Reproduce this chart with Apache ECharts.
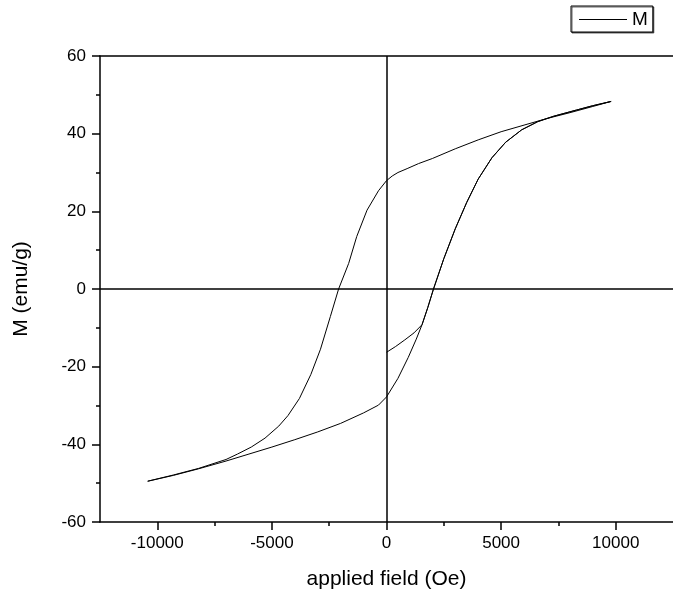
<!DOCTYPE html>
<html>
<head>
<meta charset="utf-8">
<script src="https://cdn.jsdelivr.net/npm/echarts@6/dist/echarts.min.js"></script>
<style>
  html, body { margin: 0; padding: 0; background: #fff; }
  #chart { width: 673px; height: 598px; }
</style>
</head>
<body>
<div id="chart"></div>
<script>
// hysteresis loop, values
// initial curve (starts from remanent state at H = 0)
var initField = [0, 400, 800, 1200, 1550];
var initM = [-16.3, -14.8, -13.1, -11.3, -9.2];

// descending branch, +H max -> -H max
var descField = [9800, 9000, 8000, 7000, 6000, 5000, 4000, 3000, 2000, 1400, 900, 500, 250, 0,
  -350, -850, -1300, -1650, -2090, -2450, -2880, -3300, -3800, -4300, -4700, -5300, -5900,
  -6500, -7000, -8200, -9300, -10420];
var descM = [48.3, 47.0, 45.4, 43.9, 42.2, 40.5, 38.4, 36.1, 33.6, 32.3, 31.0, 30.0, 29.1, 27.9,
  25.3, 20.3, 13.5, 6.6, 0, -7.1, -15.5, -22.0, -28.2, -32.6, -35.3, -38.4, -40.7,
  -42.5, -43.9, -46.2, -47.9, -49.5];

// ascending branch, -H max -> +H max
var ascField = [-10420, -9300, -8200, -7000, -6000, -5000, -4000, -3000, -2000, -1000, -350, 0,
  500, 950, 1300, 1550, 1800, 2050, 2500, 3000, 3500, 4000, 4600, 5200, 5900, 6600, 7300,
  8300, 9000, 9800];
var ascM = [-49.5, -48.0, -46.3, -44.3, -42.5, -40.7, -38.8, -36.8, -34.6, -31.9, -29.9, -27.8,
  -23.0, -17.6, -12.9, -9.2, -4.8, 0, 7.8, 15.5, 22.3, 28.3, 33.8, 37.8, 41.0, 43.1, 44.5,
  46.1, 47.2, 48.3];

// ticks
var xMajor = [-10000, -5000, 0, 5000, 10000];
var xMinor = [-7500, -2500, 2500, 7500];

function pairs(xs, ys) {
  return xs.map(function (x, i) { return [x, ys[i]]; });
}

// measurement order: initial -> up to max -> down to min -> up to max
var loop = pairs(initField, initM)
  .concat(pairs(ascField, ascM).filter(function (p) { return p[0] > 1550; }))
  .concat(pairs(descField, descM))
  .concat(pairs(ascField, ascM));

var font = "'Liberation Sans', Arial, sans-serif";
var black = '#000';

var chart = echarts.init(document.getElementById('chart'));
chart.setOption({
  animation: false,
  textStyle: { fontFamily: font, color: black },
  grid: { left: 100, right: -3, top: 56, bottom: 76, containLabel: false },
  legend: {
    data: [{ name: 'M', icon: 'rect' }],
    left: 571,
    top: 6,
    padding: [4, 5, 3, 8],
    itemWidth: 48,
    itemHeight: 1,
    borderColor: black,
    borderWidth: 1,
    backgroundColor: '#fff',
    shadowColor: 'rgba(0,0,0,0.6)',
    shadowOffsetX: 1,
    shadowOffsetY: 1,
    itemStyle: { color: black },
    textStyle: { fontFamily: font, fontSize: 19, color: black }
  },
  xAxis: [
    {
      type: 'value',
      min: -12500,
      max: 12500,
      position: 'bottom',
      name: 'applied field (Oe)',
      nameLocation: 'middle',
      nameGap: 47,
      nameTextStyle: { fontFamily: font, fontSize: 21, color: black },
      axisLine: { show: true, onZero: false, lineStyle: { color: black, width: 1.5 } },
      axisTick: { show: true, inside: false, length: 8, customValues: xMajor, lineStyle: { color: black, width: 1.5 } },
      axisLabel: {
        customValues: xMajor, fontSize: 17, color: black, margin: 13,
        formatter: function (v) { return String(v); }
      },
      splitLine: { show: false }
    },
    {
      // minor ticks
      type: 'value',
      min: -12500,
      max: 12500,
      position: 'bottom',
      axisLine: { show: false, onZero: false },
      axisTick: { show: true, inside: false, length: 4, customValues: xMinor, lineStyle: { color: black, width: 1.5 } },
      axisLabel: { show: false },
      splitLine: { show: false }
    },
    {
      // top frame
      type: 'value',
      min: -12500,
      max: 12500,
      position: 'top',
      axisLine: { show: true, onZero: false, lineStyle: { color: black, width: 1.5 } },
      axisTick: { show: false },
      axisLabel: { show: false },
      splitLine: { show: false }
    }
  ],
  yAxis: [
    {
      type: 'value',
      min: -60,
      max: 60,
      interval: 20,
      name: 'M (emu/g)',
      nameLocation: 'middle',
      nameGap: 68,
      nameTextStyle: { fontFamily: font, fontSize: 21, color: black },
      axisLine: { show: true, onZero: false, lineStyle: { color: black, width: 1.5 } },
      axisTick: { show: true, inside: false, length: 8, lineStyle: { color: black, width: 1.5 } },
      minorTick: { show: true, splitNumber: 2, length: 4, lineStyle: { color: black, width: 1.5 } },
      axisLabel: { fontSize: 17, color: black, margin: 14 },
      splitLine: { show: false },
      minorSplitLine: { show: false }
    }
  ],
  series: [
    {
      name: 'M',
      type: 'line',
      xAxisIndex: 0,
      yAxisIndex: 0,
      data: loop,
      symbol: 'none',
      showSymbol: false,
      lineStyle: { color: black, width: 1 },
      itemStyle: { color: black },
      markLine: {
        silent: true,
        symbol: ['none', 'none'],
        label: { show: false },
        lineStyle: { color: black, type: 'solid', width: 1.5 },
        data: [{ xAxis: 0 }, { yAxis: 0 }]
      }
    }
  ]
});
</script>
</body>
</html>
